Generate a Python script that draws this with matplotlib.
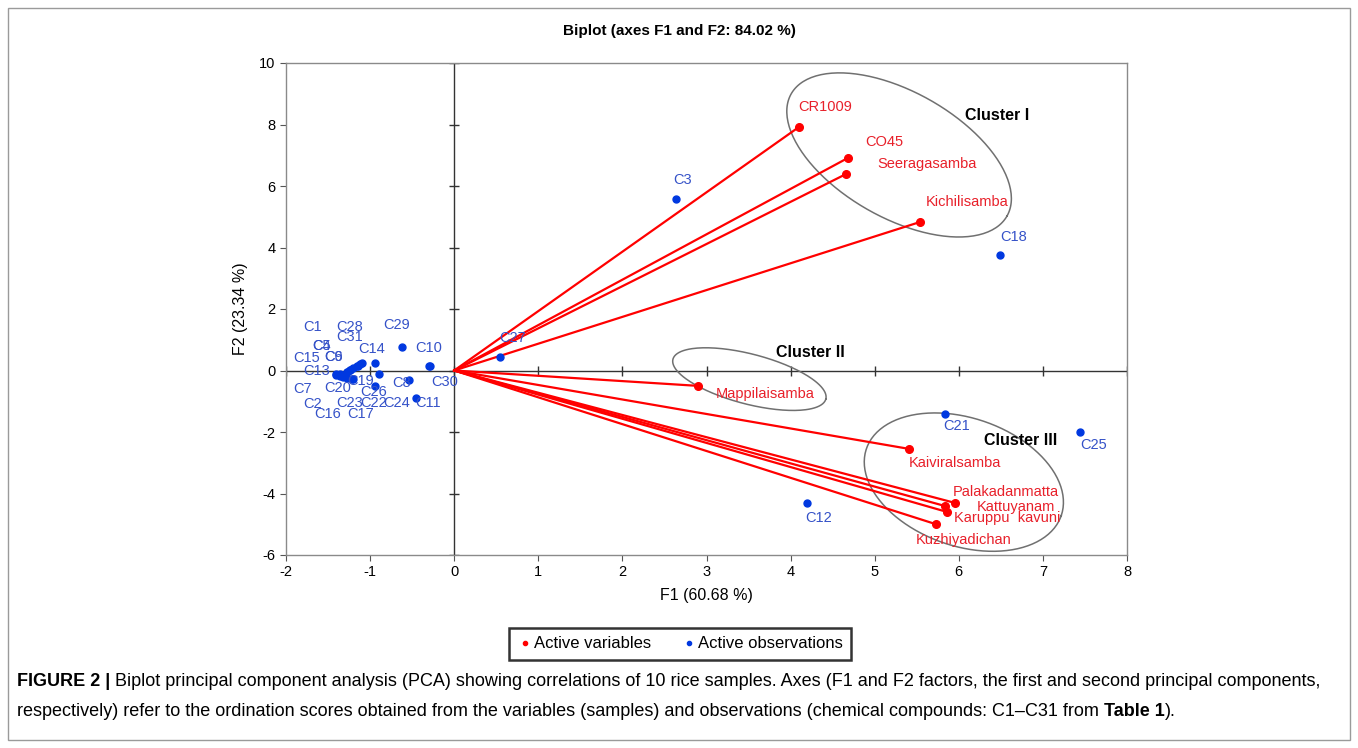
import matplotlib
matplotlib.use('Agg')
import matplotlib.pyplot as plt
import matplotlib.patches as patches
import numpy as np

plt.rcParams['font.family'] = ['Liberation Sans', 'DejaVu Sans']
plt.rcParams['axes.unicode_minus'] = False

# Active variables (rice samples) - F1, F2 coordinates
var_names = ['CR1009', 'CO45', 'Seeragasamba', 'Kichilisamba', 'Mappilaisamba',
             'Kaiviralsamba', 'Palakadanmatta', 'Kattuyanam', 'Karuppu  kavuni',
             'Kuzhiyadichan']
var_f1 = [4.10, 4.68, 4.66, 5.54, 2.90, 5.41, 5.96, 5.84, 5.86, 5.73]
var_f2 = [7.92, 6.91, 6.39, 4.83, -0.50, -2.55, -4.31, -4.41, -4.60, -5.00]

# Active observations (chemical compounds)
obs_names = ['C1', 'C2', 'C3', 'C4', 'C5', 'C6', 'C7', 'C8', 'C9', 'C10',
             'C11', 'C12', 'C13', 'C14', 'C15', 'C16', 'C17', 'C18', 'C19', 'C20',
             'C21', 'C22', 'C23', 'C24', 'C25', 'C26', 'C27', 'C28', 'C29', 'C30', 'C31']
obs_f1 = [-1.36, -1.32, 2.64, -1.24, -1.24, -1.28, -1.40, -0.54, -1.28, -0.30,
          -0.45, 4.19, -1.36, -0.94, -1.40, -1.28, -1.22, 6.49, -0.90, -1.20,
          5.84, -1.10, -1.20, -1.14, 7.44, -0.94, 0.55, -1.16, -0.62, -0.29, -1.12]
obs_f2 = [-0.10, -0.20, 5.58, 0.02, 0.03, -0.06, -0.14, -0.31, -0.05, 0.15,
          -0.90, -4.31, -0.18, 0.24, -0.12, -0.25, -0.27, 3.76, -0.12, -0.28,
          -1.41, 0.25, 0.09, 0.15, -2.00, -0.50, 0.44, 0.15, 0.77, 0.16, 0.20]

# label anchor positions (layout only)
var_label_pos = {
    'CR1009': (4.41, 8.57), 'CO45': (5.11, 7.43), 'Seeragasamba': (5.62, 6.71),
    'Kichilisamba': (6.10, 5.48), 'Mappilaisamba': (3.70, -0.76),
    'Kaiviralsamba': (5.95, -3.01), 'Palakadanmatta': (6.56, -3.95),
    'Kattuyanam': (6.68, -4.44), 'Karuppu  kavuni': (6.58, -4.80),
    'Kuzhiyadichan': (6.06, -5.51),
}
obs_label_pos = {
    'C1': (-1.68, 1.41), 'C28': (-1.24, 1.41), 'C31': (-1.24, 1.09), 'C29': (-0.69, 1.48),
    'C4': (-1.58, 0.80), 'C5': (-1.58, 0.80), 'C6': (-1.44, 0.44), 'C9': (-1.44, 0.44),
    'C14': (-0.98, 0.70), 'C10': (-0.30, 0.73), 'C15': (-1.75, 0.41), 'C13': (-1.64, -0.02),
    'C7': (-1.80, -0.60), 'C20': (-1.38, -0.57), 'C19': (-1.11, -0.34), 'C26': (-0.96, -0.70),
    'C8': (-0.63, -0.41), 'C30': (-0.11, -0.37), 'C2': (-1.69, -1.09), 'C23': (-1.24, -1.06),
    'C22': (-0.96, -1.06), 'C24': (-0.68, -1.06), 'C11': (-0.31, -1.06), 'C16': (-1.50, -1.41),
    'C17': (-1.11, -1.41), 'C3': (2.72, 6.19), 'C18': (6.65, 4.34), 'C27': (0.69, 1.06),
    'C21': (5.98, -1.80), 'C25': (7.60, -2.42), 'C12': (4.33, -4.80),
}

# cluster annotations: label, label pos, ellipse centre (data), semi-axes (px), tilt (deg)
clusters = [
    ('Cluster I', (6.46, 8.28), (5.29, 7.01), 124, 63, -29.5),
    ('Cluster II', (4.23, 0.60), (3.51, -0.28), 79, 25, -14.6),
    ('Cluster III', (6.74, -2.29), (6.06, -3.63), 103, 64, -19),
]

RED = '#FF0000'
RED_TXT = '#E8202A'
BLUE = '#0038E0'
BLUE_TXT = '#3552C8'

fig = plt.figure(figsize=(13.58, 7.48), dpi=100)
ax = fig.add_axes([286 / 1358, 1 - 555 / 748, (1127 - 286) / 1358, (555 - 63) / 748])

ax.set_xlim(-2, 8)
ax.set_ylim(-6, 10)
xticks = np.arange(-2, 9, 1)
yticks = np.arange(-6, 11, 2)
ax.set_xticks(xticks)
ax.set_yticks(yticks)
ax.tick_params(labelsize=10.5, length=4, color='#555555', direction='out')
for s in ax.spines.values():
    s.set_color('#8a8a8a')
    s.set_linewidth(1.0)

# zero axes with small ticks
ax.axhline(0, color='#333333', lw=1.0, zorder=1)
ax.axvline(0, color='#333333', lw=1.0, zorder=1)
ax.plot(np.zeros(len(yticks)), yticks, ls='none', marker='_', ms=7, color='#333333', zorder=1)
ax.plot(xticks, np.zeros(len(xticks)), ls='none', marker='|', ms=7, color='#333333', zorder=1)

# variable vectors
for x, y in zip(var_f1, var_f2):
    ax.plot([0, x], [0, y], color=RED, lw=1.6, zorder=3)
ax.plot(var_f1, var_f2, 'o', color=RED, ms=5.5, zorder=4, ls='none')
for name in var_names:
    lx, ly = var_label_pos[name]
    ax.text(lx, ly, name, color=RED_TXT, fontsize=10.5, ha='center', va='center', zorder=5)

# observations
ax.plot(obs_f1, obs_f2, 'o', color=BLUE, ms=5, zorder=4, ls='none')
for name in obs_names:
    lx, ly = obs_label_pos[name]
    ax.text(lx, ly, name, color=BLUE_TXT, fontsize=10.5, ha='center', va='center', zorder=5)

# cluster ellipses (drawn in pixel space, converted to data)
px_x = (1127 - 286) / 10.0
px_y = (555 - 63) / 16.0
t = np.linspace(0, 2 * np.pi, 200)
for label, lpos, (cx, cy), a, b, ang in clusters:
    th = np.deg2rad(ang)
    ex = a * np.cos(t) * np.cos(th) - b * np.sin(t) * np.sin(th)
    ey = a * np.cos(t) * np.sin(th) + b * np.sin(t) * np.cos(th)
    ax.plot(cx + ex / px_x, cy + ey / px_y, color='#707070', lw=1.1, zorder=2)
    ax.text(lpos[0], lpos[1], label, fontsize=11.5, fontweight='bold', color='black',
            ha='center', va='center', zorder=5)

fig.text(0.5, 1 - 31 / 748, 'Biplot (axes F1 and F2: 84.02 %)', ha='center', va='center',
         fontsize=11, fontweight='bold')
ax.set_xlabel('F1 (60.68 %)', fontsize=11.5, labelpad=6)
ax.set_ylabel('F2 (23.34 %)', fontsize=11.5, labelpad=8)

# legend
h1, = ax.plot([], [], 'o', color=RED, ms=3, ls='none')
h2, = ax.plot([], [], 'o', color=BLUE, ms=3, ls='none')
leg = fig.legend([h1, h2], ['Active variables', 'Active observations'], ncol=2,
                 loc='center', bbox_to_anchor=(680 / 1358, 1 - 644 / 748),
                 fontsize=12, frameon=True, fancybox=False, edgecolor='black',
                 handletextpad=0.1, columnspacing=1.8, borderpad=0.5, handlelength=0.9)
leg.get_frame().set_linewidth(1.8)

# outer border
fig.add_artist(patches.Rectangle((8 / 1358, 8 / 748), 1342 / 1358, 732 / 748,
                                 transform=fig.transFigure, fill=False,
                                 edgecolor='#9a9a9a', lw=1.0))

# caption
cap_font = ['Liberation Sans Narrow', 'Liberation Sans', 'DejaVu Sans']
tax = fig.add_axes([0, 0, 1, 1], facecolor='none')
tax.axis('off')
t1 = tax.text(17 / 1358, 1 - 682 / 748, 'FIGURE 2 |', fontsize=13, fontweight='bold',
              family=cap_font, va='center', ha='left')
tax.annotate(' Biplot principal component analysis (PCA) showing correlations of 10 rice samples. '
             'Axes (F1 and F2 factors, the first and second principal components,',
             xy=(1, 0.5), xycoords=t1, va='center', ha='left', fontsize=13, family=cap_font)
t2 = tax.text(17 / 1358, 1 - 712 / 748,
              'respectively) refer to the ordination scores obtained from the variables (samples) '
              'and observations (chemical compounds: C1\u2013C31 from ',
              fontsize=13, family=cap_font, va='center', ha='left')
t3 = tax.annotate('Table 1', xy=(1, 0.5), xycoords=t2, va='center', ha='left', fontsize=13,
                  fontweight='bold', family=cap_font)
tax.annotate(').', xy=(1, 0.5), xycoords=t3, va='center', ha='left', fontsize=13, family=cap_font)

fig.savefig('out.png', dpi=100)
